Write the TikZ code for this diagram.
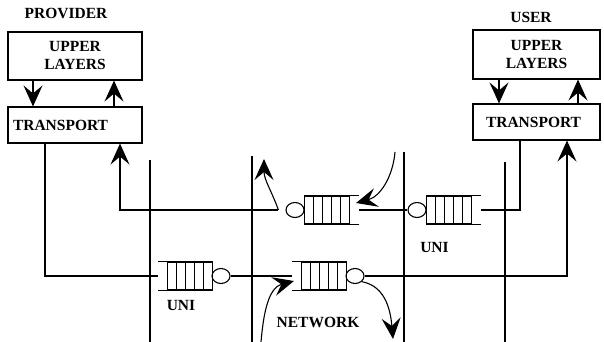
\documentclass[tikz,border=0pt]{standalone}
\usepackage{fontspec}
\setmainfont{Liberation Serif}
\usetikzlibrary{arrows.meta,shapes.geometric}
\tikzset{
  wire/.style={line width=1.1pt},
  flow/.style={wire,-{Stealth[length=21pt,width=19pt,inset=8pt]}},
  box/.style={draw,line width=1.1pt,align=center,inner sep=0pt,
    font=\fontsize{15.5}{18}\selectfont\bfseries},
  tag/.style={inner sep=0pt,font=\fontsize{15.5}{18}\selectfont\bfseries},
  queue/.style={draw,line width=1.1pt,minimum width=45pt,minimum height=28pt,inner sep=0pt,
    path picture={\foreach \i in {1,...,4}
      \draw[line width=1.1pt] ([xshift=\i*9pt]path picture bounding box.south west)
        -- ([xshift=\i*9pt]path picture bounding box.north west);}},
  server/.style={ellipse,draw,line width=1.1pt,minimum width=18pt,minimum height=15pt,inner sep=0pt}
}
\begin{document}
\begin{tikzpicture}[x=1pt,y=-1pt]
  \useasboundingbox (0,0) rectangle (604,342);
  % end systems
  \node[tag] (prov) at (66,13) {PROVIDER};
  \node[tag] (user) at (531,17.5) {USER};
  \node[box,minimum width=134pt,minimum height=48pt] (ulP) at (75,56) {UPPER\\LAYERS};
  \node[box,minimum height=36pt,text width=124pt,align=left,inner xsep=5pt] (trP) at (75,125) {TRANSPORT};
  \node[box,minimum width=127pt,minimum height=49pt] (ulU) at (536.5,54.5) {UPPER\\LAYERS};
  \node[box,minimum height=36pt,text width=101pt,align=left,inner xsep=13pt] (trU) at (536.5,122) {TRANSPORT};
  \draw[flow] ([xshift=-42pt]ulP.south) -- ([xshift=-42pt]trP.north);
  \draw[flow] ([xshift=39pt]trP.north) -- ([xshift=39pt]ulP.south);
  \draw[flow] ([xshift=-37.5pt]ulU.south) -- ([xshift=-37.5pt]trU.north);
  \draw[flow] ([xshift=41.5pt]trU.north) -- ([xshift=41.5pt]ulU.south);
  % interface boundaries
  \foreach \x/\t in {150/160,252/156,404/152,505/162}
    \draw[wire] (\x,\t) -- (\x,342);
  % queues and servers
  \node[server] (s1) at (295,210) {};
  \node[queue] (q1) at (327,210) {};
  \node[server] (s2) at (417,210) {};
  \node[queue] (q2) at (449,210) {};
  \node[queue] (q3) at (190,276) {};
  \node[server] (s3) at (221,276) {};
  \node[queue] (q4) at (324,276) {};
  \node[server] (s4) at (355,276) {};
  \foreach \q/\a/\s in {q1/east/1,q2/east/1,q3/west/-1,q4/west/-1}{
    \draw[wire] (\q.north \a) -- ++(\s*9,0);
    \draw[wire] (\q.south \a) -- ++(\s*9,0);
  }
  \node[tag] (uniL) at (181,305) {UNI};
  \node[tag] (uniU) at (434.5,247) {UNI};
  \node[tag] (net) at (318,322) {NETWORK};
  % user to provider
  \coordinate (p1) at ([xshift=-7pt]s1.west);
  \coordinate (up1) at (264,159);
  \coordinate (in1) at (395,152);
  \draw[wire] ([xshift=9pt]q2.east) -| ([xshift=-16.5pt]trU.south);
  \draw[wire] (s2.west) -- ([xshift=9pt]q1.east);
  \draw[flow] (p1) -| ([xshift=45pt]trP.south);
  \draw[flow] (p1) to[out=110,in=-90] (up1);
  \draw[flow] (in1) to[out=-95,in=15] ([xshift=6pt,yshift=7pt]q1.east);
  % provider to user
  \coordinate (in2) at (261,342);
  \coordinate (out2) at (393,339);
  \draw[wire] ([xshift=-30pt]trP.south) |- ([xshift=-9pt]q3.west);
  \draw[wire] (s3.east) -- ([xshift=-9pt]q4.west);
  \draw[flow] (s4.east) -| ([xshift=30.5pt]trU.south);
  \draw[flow] (in2) to[out=85,in=195] ([xshift=-7pt,yshift=-5pt]q4.west);
  \draw[flow] (s4.-40) to[out=-10,in=95] (out2);
\end{tikzpicture}
\end{document}
